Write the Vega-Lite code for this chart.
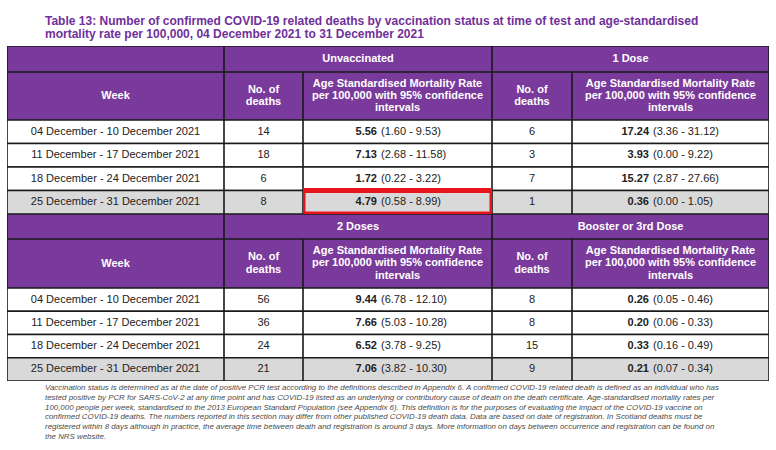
{
  "$schema": "https://vega.github.io/schema/vega-lite/v6.json",
  "background": "#ffffff",
  "padding": {"left": 7, "top": 14, "right": 5, "bottom": 0},
  "title": {
    "text": ["Table 13: Number of confirmed COVID-19 related deaths by vaccination status at time of test and age-standardised", "mortality rate per 100,000, 04 December 2021 to 31 December 2021"],
    "anchor": "start", "dx": 38, "offset": 5,
    "font": "Liberation Sans", "fontSize": 12, "fontWeight": "bold", "color": "#70309a", "lineHeight": 13.5
  },
  "datasets": {
    "cells": [
      {"section": 1, "status": "Unvaccinated", "week": "04 December - 10 December 2021", "deaths": 14, "rate": 5.56, "lo": 1.60, "hi": 9.53},
      {"section": 1, "status": "Unvaccinated", "week": "11 December - 17 December 2021", "deaths": 18, "rate": 7.13, "lo": 2.68, "hi": 11.58},
      {"section": 1, "status": "Unvaccinated", "week": "18 December - 24 December 2021", "deaths": 6, "rate": 1.72, "lo": 0.22, "hi": 3.22},
      {"section": 1, "status": "Unvaccinated", "week": "25 December - 31 December 2021", "deaths": 8, "rate": 4.79, "lo": 0.58, "hi": 8.99},
      {"section": 1, "status": "1 Dose", "week": "04 December - 10 December 2021", "deaths": 6, "rate": 17.24, "lo": 3.36, "hi": 31.12},
      {"section": 1, "status": "1 Dose", "week": "11 December - 17 December 2021", "deaths": 3, "rate": 3.93, "lo": 0.00, "hi": 9.22},
      {"section": 1, "status": "1 Dose", "week": "18 December - 24 December 2021", "deaths": 7, "rate": 15.27, "lo": 2.87, "hi": 27.66},
      {"section": 1, "status": "1 Dose", "week": "25 December - 31 December 2021", "deaths": 1, "rate": 0.36, "lo": 0.00, "hi": 1.05},
      {"section": 2, "status": "2 Doses", "week": "04 December - 10 December 2021", "deaths": 56, "rate": 9.44, "lo": 6.78, "hi": 12.10},
      {"section": 2, "status": "2 Doses", "week": "11 December - 17 December 2021", "deaths": 36, "rate": 7.66, "lo": 5.03, "hi": 10.28},
      {"section": 2, "status": "2 Doses", "week": "18 December - 24 December 2021", "deaths": 24, "rate": 6.52, "lo": 3.78, "hi": 9.25},
      {"section": 2, "status": "2 Doses", "week": "25 December - 31 December 2021", "deaths": 21, "rate": 7.06, "lo": 3.82, "hi": 10.30},
      {"section": 2, "status": "Booster or 3rd Dose", "week": "04 December - 10 December 2021", "deaths": 8, "rate": 0.26, "lo": 0.05, "hi": 0.46},
      {"section": 2, "status": "Booster or 3rd Dose", "week": "11 December - 17 December 2021", "deaths": 8, "rate": 0.20, "lo": 0.06, "hi": 0.33},
      {"section": 2, "status": "Booster or 3rd Dose", "week": "18 December - 24 December 2021", "deaths": 15, "rate": 0.33, "lo": 0.16, "hi": 0.49},
      {"section": 2, "status": "Booster or 3rd Dose", "week": "25 December - 31 December 2021", "deaths": 9, "rate": 0.21, "lo": 0.07, "hi": 0.34}
    ]
  },
  "spacing": 0,
  "vconcat": [
    {
      "spacing": 0,
      "hconcat": [
        {"spacing": 0, "vconcat": [
          {"width": 217, "height": 26, "data": {"values": [{"label": ""}]},
           "layer": [{"mark": {"type": "rect", "clip": true, "fill": "#7a3a9c"}, "encoding": {}}]},
          {"width": 217, "height": 48, "data": {"values": [{"label": "Week"}]},
           "layer": [{"mark": {"type": "rect", "clip": true, "fill": "#7a3a9c"}, "encoding": {}},
                     {"mark": {"type": "text", "clip": true, "color": "#ffffff", "fontWeight": "bold", "fontSize": 11}, "encoding": {"text": {"field": "label"}}}]},
          {"width": 217, "height": 94, "data": {"name": "cells"}, "transform": [{"filter": "datum.status === 'Unvaccinated'"}],
           "encoding": {"y": {"field": "week", "type": "nominal", "sort": null, "axis": null, "scale": {"paddingInner": 0, "paddingOuter": 0}}},
           "layer": [{"mark": {"type": "rect", "clip": true}, "encoding": {"fill": {"condition": {"test": "datum.week === '25 December - 31 December 2021'", "value": "#d9d9d9"}, "value": "#ffffff"}}},
                     {"mark": {"type": "text", "clip": true, "fontSize": 11, "color": "#222222"}, "encoding": {"text": {"field": "week"}}}]}
        ]},
        {"spacing": 0, "vconcat": [
          {"width": 268, "height": 26, "data": {"values": [{"label": "Unvaccinated"}]},
           "layer": [{"mark": {"type": "rect", "clip": true, "fill": "#7a3a9c"}, "encoding": {}},
                     {"mark": {"type": "text", "clip": true, "color": "#ffffff", "fontWeight": "bold", "fontSize": 11}, "encoding": {"text": {"field": "label"}}}]},
          {"spacing": 0, "hconcat": [
            {"spacing": 0, "vconcat": [
              {"width": 79, "height": 48, "data": {"values": [{"label": "No. of|deaths"}]},
               "layer": [{"mark": {"type": "rect", "clip": true, "fill": "#7a3a9c"}, "encoding": {}},
                         {"mark": {"type": "text", "clip": true, "color": "#ffffff", "fontWeight": "bold", "fontSize": 11, "lineHeight": 12.3, "lineBreak": "|", "dy": -6.15}, "encoding": {"text": {"field": "label"}}}]},
              {"width": 79, "height": 94, "data": {"name": "cells"}, "transform": [{"filter": "datum.status === 'Unvaccinated'"}],
               "encoding": {"y": {"field": "week", "type": "nominal", "sort": null, "axis": null, "scale": {"paddingInner": 0, "paddingOuter": 0}}},
               "layer": [{"mark": {"type": "rect", "clip": true}, "encoding": {"fill": {"condition": {"test": "datum.week === '25 December - 31 December 2021'", "value": "#d9d9d9"}, "value": "#ffffff"}}},
                         {"mark": {"type": "text", "clip": true, "fontSize": 11, "color": "#222222"}, "encoding": {"text": {"field": "deaths", "type": "quantitative", "format": "d"}}}]}
            ]},
            {"spacing": 0, "vconcat": [
              {"width": 189, "height": 48, "data": {"values": [{"label": "Age Standardised Mortality Rate|per 100,000 with 95% confidence|intervals"}]},
               "layer": [{"mark": {"type": "rect", "clip": true, "fill": "#7a3a9c"}, "encoding": {}},
                         {"mark": {"type": "text", "clip": true, "color": "#ffffff", "fontWeight": "bold", "fontSize": 11, "lineHeight": 12.3, "lineBreak": "|", "dy": -12.3}, "encoding": {"text": {"field": "label"}}}]},
              {"width": 189, "height": 94, "data": {"name": "cells"},
               "transform": [{"filter": "datum.status === 'Unvaccinated'"}, {"calculate": "'(' + format(datum.lo, '.2f') + ' - ' + format(datum.hi, '.2f') + ')'", "as": "ci"}],
               "encoding": {"y": {"field": "week", "type": "nominal", "sort": null, "axis": null, "scale": {"paddingInner": 0, "paddingOuter": 0}}},
               "layer": [{"mark": {"type": "rect", "clip": true}, "encoding": {"fill": {"condition": {"test": "datum.week === '25 December - 31 December 2021'", "value": "#d9d9d9"}, "value": "#ffffff"}}},
                         {"mark": {"type": "text", "clip": true, "fontSize": 11, "fontWeight": "bold", "color": "#222222", "align": "right", "dx": -20.5}, "encoding": {"text": {"field": "rate", "type": "quantitative", "format": ".2f"}}},
                         {"mark": {"type": "text", "clip": true, "fontSize": 11, "color": "#222222", "align": "left", "dx": -16.5}, "encoding": {"text": {"field": "ci"}}},
                         {"transform": [{"filter": "datum.week === '25 December - 31 December 2021'"}],
                          "mark": {"type": "rect", "clip": true, "fill": "#ffffff", "fillOpacity": 0, "stroke": "#e8141c", "strokeWidth": 5}}]}
            ]}
          ]}
        ]},
        {"spacing": 0, "vconcat": [
          {"width": 277, "height": 26, "data": {"values": [{"label": "1 Dose"}]},
           "layer": [{"mark": {"type": "rect", "clip": true, "fill": "#7a3a9c"}, "encoding": {}},
                     {"mark": {"type": "text", "clip": true, "color": "#ffffff", "fontWeight": "bold", "fontSize": 11}, "encoding": {"text": {"field": "label"}}}]},
          {"spacing": 0, "hconcat": [
            {"spacing": 0, "vconcat": [
              {"width": 80, "height": 48, "data": {"values": [{"label": "No. of|deaths"}]},
               "layer": [{"mark": {"type": "rect", "clip": true, "fill": "#7a3a9c"}, "encoding": {}},
                         {"mark": {"type": "text", "clip": true, "color": "#ffffff", "fontWeight": "bold", "fontSize": 11, "lineHeight": 12.3, "lineBreak": "|", "dy": -6.15}, "encoding": {"text": {"field": "label"}}}]},
              {"width": 80, "height": 94, "data": {"name": "cells"}, "transform": [{"filter": "datum.status === '1 Dose'"}],
               "encoding": {"y": {"field": "week", "type": "nominal", "sort": null, "axis": null, "scale": {"paddingInner": 0, "paddingOuter": 0}}},
               "layer": [{"mark": {"type": "rect", "clip": true}, "encoding": {"fill": {"condition": {"test": "datum.week === '25 December - 31 December 2021'", "value": "#d9d9d9"}, "value": "#ffffff"}}},
                         {"mark": {"type": "text", "clip": true, "fontSize": 11, "color": "#222222"}, "encoding": {"text": {"field": "deaths", "type": "quantitative", "format": "d"}}}]}
            ]},
            {"spacing": 0, "vconcat": [
              {"width": 197, "height": 48, "data": {"values": [{"label": "Age Standardised Mortality Rate|per 100,000 with 95% confidence|intervals"}]},
               "layer": [{"mark": {"type": "rect", "clip": true, "fill": "#7a3a9c"}, "encoding": {}},
                         {"mark": {"type": "text", "clip": true, "color": "#ffffff", "fontWeight": "bold", "fontSize": 11, "lineHeight": 12.3, "lineBreak": "|", "dy": -12.3}, "encoding": {"text": {"field": "label"}}}]},
              {"width": 197, "height": 94, "data": {"name": "cells"},
               "transform": [{"filter": "datum.status === '1 Dose'"}, {"calculate": "'(' + format(datum.lo, '.2f') + ' - ' + format(datum.hi, '.2f') + ')'", "as": "ci"}],
               "encoding": {"y": {"field": "week", "type": "nominal", "sort": null, "axis": null, "scale": {"paddingInner": 0, "paddingOuter": 0}}},
               "layer": [{"mark": {"type": "rect", "clip": true}, "encoding": {"fill": {"condition": {"test": "datum.week === '25 December - 31 December 2021'", "value": "#d9d9d9"}, "value": "#ffffff"}}},
                         {"mark": {"type": "text", "clip": true, "fontSize": 11, "fontWeight": "bold", "color": "#222222", "align": "right", "dx": -21.5}, "encoding": {"text": {"field": "rate", "type": "quantitative", "format": ".2f"}}},
                         {"mark": {"type": "text", "clip": true, "fontSize": 11, "color": "#222222", "align": "left", "dx": -17.5}, "encoding": {"text": {"field": "ci"}}}]}
            ]}
          ]}
        ]}
      ]
    },
    {
      "spacing": 0,
      "title": {
        "text": [
          "Vaccination status is determined as at the date of positive PCR test according to the definitions described in Appendix 6. A confirmed COVID-19 related death is defined as an individual who has",
          "tested positive by PCR for SARS-CoV-2 at any time point and has COVID-19 listed as an underlying or contributory cause of death on the death certificate. Age-standardised mortality rates per",
          "100,000 people per week, standardised to the 2013 European Standard Population (see Appendix 6). This definition is for the purposes of evaluating the impact of the COVID-19 vaccine on",
          "confirmed COVID-19 deaths. The numbers reported in this section may differ from other published COVID-19 death data. Data are based on date of registration. In Scotland deaths must be",
          "registered within 8 days although in practice, the average time between death and registration is around 3 days. More information on days between occurrence and registration can be found on",
          "the NRS website."
        ],
        "orient": "bottom", "anchor": "start", "dx": 38, "offset": 3,
        "font": "Liberation Sans", "fontSize": 7.9, "fontStyle": "italic", "fontWeight": "normal", "color": "#4a4a4a", "lineHeight": 9.8
      },
      "hconcat": [
        {"spacing": 0, "vconcat": [
          {"width": 217, "height": 25, "data": {"values": [{"label": ""}]},
           "layer": [{"mark": {"type": "rect", "clip": true, "fill": "#7a3a9c"}, "encoding": {}}]},
          {"width": 217, "height": 49, "data": {"values": [{"label": "Week"}]},
           "layer": [{"mark": {"type": "rect", "clip": true, "fill": "#7a3a9c"}, "encoding": {}},
                     {"mark": {"type": "text", "clip": true, "color": "#ffffff", "fontWeight": "bold", "fontSize": 11}, "encoding": {"text": {"field": "label"}}}]},
          {"width": 217, "height": 93, "data": {"name": "cells"}, "transform": [{"filter": "datum.status === '2 Doses'"}],
           "encoding": {"y": {"field": "week", "type": "nominal", "sort": null, "axis": null, "scale": {"paddingInner": 0, "paddingOuter": 0}}},
           "layer": [{"mark": {"type": "rect", "clip": true}, "encoding": {"fill": {"condition": {"test": "datum.week === '25 December - 31 December 2021'", "value": "#d9d9d9"}, "value": "#ffffff"}}},
                     {"mark": {"type": "text", "clip": true, "fontSize": 11, "color": "#222222"}, "encoding": {"text": {"field": "week"}}}]}
        ]},
        {"spacing": 0, "vconcat": [
          {"width": 268, "height": 25, "data": {"values": [{"label": "2 Doses"}]},
           "layer": [{"mark": {"type": "rect", "clip": true, "fill": "#7a3a9c"}, "encoding": {}},
                     {"mark": {"type": "text", "clip": true, "color": "#ffffff", "fontWeight": "bold", "fontSize": 11}, "encoding": {"text": {"field": "label"}}}]},
          {"spacing": 0, "hconcat": [
            {"spacing": 0, "vconcat": [
              {"width": 79, "height": 49, "data": {"values": [{"label": "No. of|deaths"}]},
               "layer": [{"mark": {"type": "rect", "clip": true, "fill": "#7a3a9c"}, "encoding": {}},
                         {"mark": {"type": "text", "clip": true, "color": "#ffffff", "fontWeight": "bold", "fontSize": 11, "lineHeight": 12.3, "lineBreak": "|", "dy": -6.15}, "encoding": {"text": {"field": "label"}}}]},
              {"width": 79, "height": 93, "data": {"name": "cells"}, "transform": [{"filter": "datum.status === '2 Doses'"}],
               "encoding": {"y": {"field": "week", "type": "nominal", "sort": null, "axis": null, "scale": {"paddingInner": 0, "paddingOuter": 0}}},
               "layer": [{"mark": {"type": "rect", "clip": true}, "encoding": {"fill": {"condition": {"test": "datum.week === '25 December - 31 December 2021'", "value": "#d9d9d9"}, "value": "#ffffff"}}},
                         {"mark": {"type": "text", "clip": true, "fontSize": 11, "color": "#222222"}, "encoding": {"text": {"field": "deaths", "type": "quantitative", "format": "d"}}}]}
            ]},
            {"spacing": 0, "vconcat": [
              {"width": 189, "height": 49, "data": {"values": [{"label": "Age Standardised Mortality Rate|per 100,000 with 95% confidence|intervals"}]},
               "layer": [{"mark": {"type": "rect", "clip": true, "fill": "#7a3a9c"}, "encoding": {}},
                         {"mark": {"type": "text", "clip": true, "color": "#ffffff", "fontWeight": "bold", "fontSize": 11, "lineHeight": 12.3, "lineBreak": "|", "dy": -12.3}, "encoding": {"text": {"field": "label"}}}]},
              {"width": 189, "height": 93, "data": {"name": "cells"},
               "transform": [{"filter": "datum.status === '2 Doses'"}, {"calculate": "'(' + format(datum.lo, '.2f') + ' - ' + format(datum.hi, '.2f') + ')'", "as": "ci"}],
               "encoding": {"y": {"field": "week", "type": "nominal", "sort": null, "axis": null, "scale": {"paddingInner": 0, "paddingOuter": 0}}},
               "layer": [{"mark": {"type": "rect", "clip": true}, "encoding": {"fill": {"condition": {"test": "datum.week === '25 December - 31 December 2021'", "value": "#d9d9d9"}, "value": "#ffffff"}}},
                         {"mark": {"type": "text", "clip": true, "fontSize": 11, "fontWeight": "bold", "color": "#222222", "align": "right", "dx": -20.5}, "encoding": {"text": {"field": "rate", "type": "quantitative", "format": ".2f"}}},
                         {"mark": {"type": "text", "clip": true, "fontSize": 11, "color": "#222222", "align": "left", "dx": -16.5}, "encoding": {"text": {"field": "ci"}}}]}
            ]}
          ]}
        ]},
        {"spacing": 0, "vconcat": [
          {"width": 277, "height": 25, "data": {"values": [{"label": "Booster or 3rd Dose"}]},
           "layer": [{"mark": {"type": "rect", "clip": true, "fill": "#7a3a9c"}, "encoding": {}},
                     {"mark": {"type": "text", "clip": true, "color": "#ffffff", "fontWeight": "bold", "fontSize": 11}, "encoding": {"text": {"field": "label"}}}]},
          {"spacing": 0, "hconcat": [
            {"spacing": 0, "vconcat": [
              {"width": 80, "height": 49, "data": {"values": [{"label": "No. of|deaths"}]},
               "layer": [{"mark": {"type": "rect", "clip": true, "fill": "#7a3a9c"}, "encoding": {}},
                         {"mark": {"type": "text", "clip": true, "color": "#ffffff", "fontWeight": "bold", "fontSize": 11, "lineHeight": 12.3, "lineBreak": "|", "dy": -6.15}, "encoding": {"text": {"field": "label"}}}]},
              {"width": 80, "height": 93, "data": {"name": "cells"}, "transform": [{"filter": "datum.status === 'Booster or 3rd Dose'"}],
               "encoding": {"y": {"field": "week", "type": "nominal", "sort": null, "axis": null, "scale": {"paddingInner": 0, "paddingOuter": 0}}},
               "layer": [{"mark": {"type": "rect", "clip": true}, "encoding": {"fill": {"condition": {"test": "datum.week === '25 December - 31 December 2021'", "value": "#d9d9d9"}, "value": "#ffffff"}}},
                         {"mark": {"type": "text", "clip": true, "fontSize": 11, "color": "#222222"}, "encoding": {"text": {"field": "deaths", "type": "quantitative", "format": "d"}}}]}
            ]},
            {"spacing": 0, "vconcat": [
              {"width": 197, "height": 49, "data": {"values": [{"label": "Age Standardised Mortality Rate|per 100,000 with 95% confidence|intervals"}]},
               "layer": [{"mark": {"type": "rect", "clip": true, "fill": "#7a3a9c"}, "encoding": {}},
                         {"mark": {"type": "text", "clip": true, "color": "#ffffff", "fontWeight": "bold", "fontSize": 11, "lineHeight": 12.3, "lineBreak": "|", "dy": -12.3}, "encoding": {"text": {"field": "label"}}}]},
              {"width": 197, "height": 93, "data": {"name": "cells"},
               "transform": [{"filter": "datum.status === 'Booster or 3rd Dose'"}, {"calculate": "'(' + format(datum.lo, '.2f') + ' - ' + format(datum.hi, '.2f') + ')'", "as": "ci"}],
               "encoding": {"y": {"field": "week", "type": "nominal", "sort": null, "axis": null, "scale": {"paddingInner": 0, "paddingOuter": 0}}},
               "layer": [{"mark": {"type": "rect", "clip": true}, "encoding": {"fill": {"condition": {"test": "datum.week === '25 December - 31 December 2021'", "value": "#d9d9d9"}, "value": "#ffffff"}}},
                         {"mark": {"type": "text", "clip": true, "fontSize": 11, "fontWeight": "bold", "color": "#222222", "align": "right", "dx": -21.5}, "encoding": {"text": {"field": "rate", "type": "quantitative", "format": ".2f"}}},
                         {"mark": {"type": "text", "clip": true, "fontSize": 11, "color": "#222222", "align": "left", "dx": -17.5}, "encoding": {"text": {"field": "ci"}}}]}
            ]}
          ]}
        ]}
      ]
    }
  ],
  "config": {
    "view": {"stroke": null},
    "concat": {"spacing": 0},
    "text": {"font": "Liberation Sans", "baseline": "middle"},
    "rect": {"stroke": "#1a1a1a", "strokeWidth": 1.6}
  }
}
